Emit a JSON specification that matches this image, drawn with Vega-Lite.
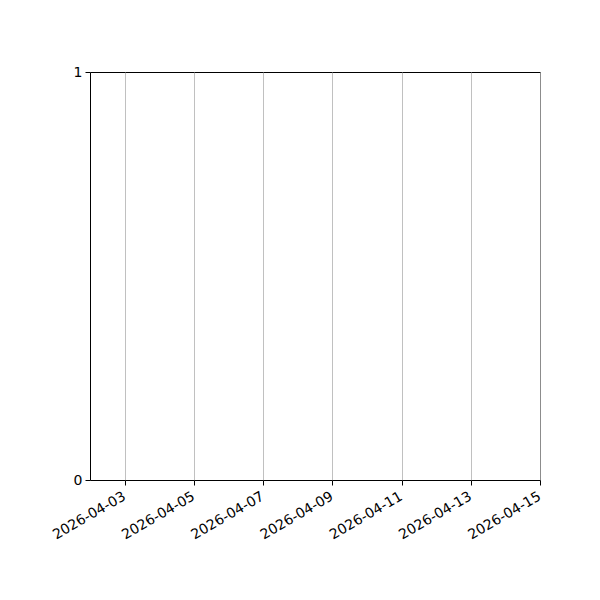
{
  "$schema": "https://vega.github.io/schema/vega-lite/v6.json",
  "width": 450,
  "height": 408,
  "autosize": {"type": "none"},
  "padding": {"left": 90, "top": 72, "right": 60, "bottom": 120},
  "background": "white",
  "config": {
    "view": {"stroke": "black", "strokeWidth": 1},
    "font": "DejaVu Sans",
    "axis": {
      "labelFont": "DejaVu Sans",
      "labelFontSize": 14,
      "labelColor": "black",
      "tickColor": "black",
      "tickSize": 5,
      "domain": false,
      "titleFontSize": 0
    }
  },
  "data": {"values": []},
  "mark": {"type": "point"},
  "encoding": {
    "x": {
      "field": "date",
      "type": "temporal",
      "title": null,
      "scale": {
        "type": "utc",
        "domain": [
          {"year": 2026, "month": 4, "date": 2, "utc": true},
          {"year": 2026, "month": 4, "date": 15, "utc": true}
        ]
      },
      "axis": {
        "values": [
          {"year": 2026, "month": 4, "date": 3, "utc": true},
          {"year": 2026, "month": 4, "date": 5, "utc": true},
          {"year": 2026, "month": 4, "date": 7, "utc": true},
          {"year": 2026, "month": 4, "date": 9, "utc": true},
          {"year": 2026, "month": 4, "date": 11, "utc": true},
          {"year": 2026, "month": 4, "date": 13, "utc": true},
          {"year": 2026, "month": 4, "date": 15, "utc": true}
        ],
        "format": "%Y-%m-%d",
        "labelAngle": -30,
        "labelAlign": "right",
        "labelBaseline": "top",
        "labelPadding": 4,
        "labelOffset": -4,
        "labelOverlap": false,
        "labelBound": false,
        "labelFlush": false,
        "grid": true,
        "gridColor": "#b0b0b0",
        "gridWidth": 0.8
      }
    },
    "y": {
      "field": "value",
      "type": "quantitative",
      "title": null,
      "scale": {"domain": [0, 1], "nice": false, "zero": false},
      "axis": {
        "values": [0, 1],
        "format": "d",
        "grid": false,
        "labelPadding": 3,
        "labelFlush": false
      }
    }
  }
}
